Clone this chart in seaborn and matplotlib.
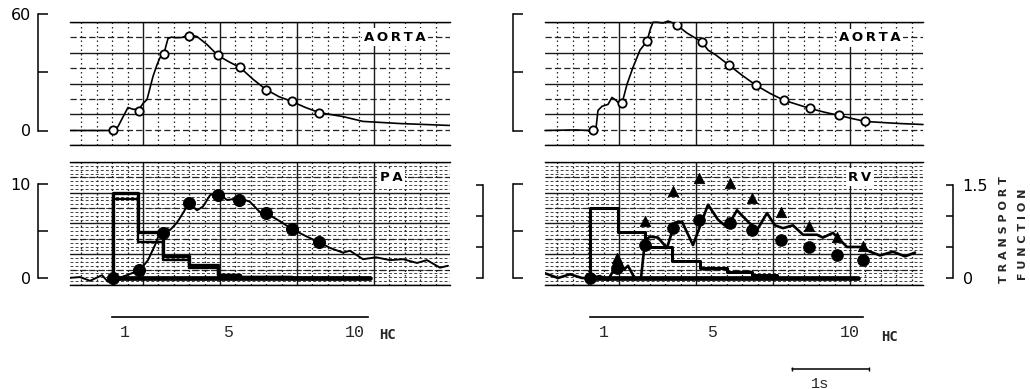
import numpy as np
import matplotlib
matplotlib.use("Agg")
import matplotlib.pyplot as plt
from matplotlib import transforms
import seaborn as sns

# ---------------- data (time in seconds, values read from the tracings) ----------------
# Left column: aorta dye-dilution curve (0-60 scale)
AORTA_L_T = [-0.948, -0.494, -0.390, -0.325, -0.260, -0.195, -0.130, -0.052, 0.000, 0.052,
             0.091, 0.130, 0.182, 0.221, 0.273, 0.300, 0.325, 0.370, 0.416, 0.506, 0.597,
             0.701, 0.831, 0.974, 1.117, 1.260, 1.429, 1.597, 1.766, 1.935, 2.104, 2.286,
             2.597, 2.857, 3.338, 3.987]
AORTA_L_V = [0, 0, 0, 2, 7, 11.9, 11.0, 10.9, 14, 16,
             22, 28, 34, 37.7, 39.8, 44.0, 47.6, 48.3, 48.0, 48.1, 49.6,
             48.6, 44.5, 38.8, 35.5, 32.6, 26.5, 21.2, 17.5, 15.0, 12.0, 9.3,
             7.2, 4.7, 3.6, 2.6]
AORTA_L_MARK_T = [-0.390, -0.052, 0.273, 0.597, 0.974, 1.260, 1.597, 1.935, 2.286]
AORTA_L_MARK_V = [0, 10.3, 39.8, 49.0, 38.8, 32.6, 21.2, 15.0, 9.3]

# Left column: pulmonary artery (PA) curve (0-10 scale)
PA_T = [-0.974, -0.818, -0.688, -0.532, -0.455, -0.390, -0.208, -0.039, 0.065, 0.156,
        0.221, 0.286, 0.351, 0.442, 0.519, 0.597, 0.701, 0.779, 0.870, 0.961,
        1.091, 1.260, 1.390, 1.519, 1.597, 1.766, 1.935, 2.104, 2.286, 2.429,
        2.597, 2.688, 2.857, 3.026, 3.208, 3.377, 3.558, 3.688, 3.857, 3.961]
PA_V = [0.0, 0.1, -0.3, 0.3, -0.4, -0.2, 0.3, 0.85, 1.9, 3.5,
        4.9, 5.3, 5.1, 5.9, 6.9, 8.0, 7.2, 7.6, 8.8, 9.1,
        8.3, 8.5, 8.1, 7.0, 6.9, 6.1, 5.2, 4.5, 3.8, 3.2,
        2.7, 2.9, 2.0, 2.2, 1.9, 2.0, 1.6, 1.9, 1.1, 1.3]
PA_MARK_T = [-0.390, -0.052, 0.260, 0.597, 0.974, 1.247, 1.597, 1.935, 2.286]
PA_MARK_V = [0.0, 0.85, 4.8, 8.0, 8.8, 8.3, 6.9, 5.2, 3.8]

# Left column: transport function (0-1.5 scale), two step estimates
TF_L_T = [-0.390, -0.390, -0.065, 0.260, 0.597, 0.974, 1.260, 1.935, 2.948]
TF_L_OUTER = [0, 1.37, 0.74, 0.35, 0.21, 0.05, 0.02, 0.0, 0.0]
TF_L_INNER = [0, 1.27, 0.58, 0.29, 0.16, 0.05, 0.02, 0.0, 0.0]

# Right column: aorta curve
AORTA_R_T = [-0.961, -0.571, -0.377, -0.299, -0.273, -0.221, -0.143, -0.091, -0.039, 0.013,
             0.039, 0.104, 0.182, 0.273, 0.364, 0.403, 0.442, 0.494, 0.571, 0.636,
             0.701, 0.753, 0.883, 1.013, 1.078, 1.156, 1.260, 1.429, 1.597, 1.779,
             1.961, 2.143, 2.312, 2.481, 2.675, 2.857, 3.026, 3.195, 3.390, 3.649, 3.948]
AORTA_R_V = [0, 0.3, 0, 1.0, 10.4, 12.5, 13.5, 17.1, 15.6, 13.5,
             14.0, 23.9, 32.7, 41.6, 46.2, 51.9, 56.0, 56.0, 55.6, 56.6,
             55.6, 54.5, 50.4, 47.3, 45.7, 41.6, 39.0, 33.8, 28.6, 23.4,
             19.2, 15.6, 13.5, 11.4, 9.4, 7.8, 6.2, 4.7, 4.2, 3.6, 3.1]
AORTA_R_MARK_T = [-0.338, 0.039, 0.364, 0.753, 1.078, 1.429, 1.779, 2.143, 2.481, 2.857, 3.195]
AORTA_R_MARK_V = [0, 14.0, 46.2, 54.5, 45.7, 33.8, 23.4, 15.6, 11.4, 7.8, 4.7]

# Right column: right ventricle (RV) curve (0-10 scale)
RV_T = [-0.961, -0.792, -0.636, -0.481, -0.377, -0.247, -0.143, -0.065, 0.000, 0.065,
        0.117, 0.208, 0.286, 0.338, 0.403, 0.506, 0.623, 0.727, 0.818, 0.961,
        1.156, 1.286, 1.403, 1.532, 1.675, 1.792, 1.922, 2.026, 2.130, 2.260,
        2.390, 2.571, 2.649, 2.779, 2.961, 3.130, 3.260, 3.390, 3.558, 3.714, 3.844]
RV_V = [0.5, 0.0, 0.4, 0.0, 0.0, 0.2, -0.2, 0.9, 2.1, 0.9,
        1.3, -0.1, 0.0, 4.0, 4.4, 4.3, 3.2, 5.9, 6.0, 3.5,
        7.8, 6.2, 5.4, 7.2, 6.0, 5.1, 6.9, 5.6, 5.3, 5.6,
        4.6, 4.6, 4.3, 4.8, 3.3, 3.3, 2.8, 2.4, 2.8, 2.3, 2.7]
RV_TRI_T = [-0.026, 0.338, 0.701, 1.039, 1.442, 1.727, 2.104, 2.468, 2.831, 3.169]
RV_TRI_V = [2.1, 6.1, 9.3, 10.6, 10.1, 8.5, 7.0, 5.5, 4.4, 3.4]
RV_DOT_T = [-0.377, -0.026, 0.338, 0.701, 1.039, 1.442, 1.727, 2.104, 2.468, 2.831, 3.169]
RV_DOT_V = [0.0, 1.1, 3.5, 5.3, 6.2, 5.9, 5.1, 4.0, 3.3, 2.4, 1.9]

# Right column: transport function steps
TF_R_T = [-0.377, -0.377, -0.013, 0.338, 0.688, 1.052, 1.403, 1.727, 2.052, 3.104]
TF_R_V = [0, 1.13, 0.74, 0.50, 0.27, 0.16, 0.10, 0.05, 0.0, 0.0]

# Heart-cycle (HC) boundaries, seconds
HC_L = [-0.403, -0.065, 0.273, 0.584, 0.948, 1.260, 1.597, 1.922, 2.260, 2.584, 2.922]
HC_R = [-0.377, -0.026, 0.312, 0.675, 1.026, 1.390, 1.753, 2.104, 2.468, 2.831, 3.169]
HC_LABELS = [1, 5, 10]

SCALE_BAR_START = 2.247   # seconds, right column
SCALE_BAR_LEN = 1.0       # 1 s

# ---------------- figure / layout ----------------
W, H = 1030, 389
sns.set_style("white")
plt.rcParams["font.family"] = ["DejaVu Sans"]
fig = plt.figure(figsize=(W / 100, H / 100), dpi=100)


def px_axes(x0, y0, x1, y1):
    return fig.add_axes([x0 / W, 1 - y1 / H, (x1 - x0) / W, (y1 - y0) / H])


TOP_YLIM = (-7.50, 56.12)
BOT_YLIM = (-0.745, 12.34)
TF_YLIM = (-0.113, 1.871)
XLIM_L = (-0.948, 3.987)
XLIM_R = (-0.961, 3.948)


def chart_paper(ax, xlim, ylim, dense):
    ax.set_xlim(*xlim)
    ax.set_ylim(*ylim)
    ax.set_xticks([0, 1, 2, 3])
    ax.set_xticks(np.round(np.arange(-0.8, 3.95, 0.2), 2), minor=True)
    ax.set_yticks(np.linspace(*ylim, 5))
    ax.set_yticks(np.linspace(*ylim, 9), minor=True)
    ax.tick_params(which="both", length=0, labelbottom=False, labelleft=False)
    ax.set_axisbelow(True)
    ax.grid(True, which="major", color="#1a1a1a", lw=1.0)
    ax.grid(True, which="minor", axis="x", color="#222222", lw=0.9, ls=(0, (1.2, 2.4)))
    ax.grid(True, which="minor", axis="y", color="#222222", lw=0.9, ls=(0, (5, 2.5)))
    if dense:
        for yy in np.linspace(*ylim, 33):
            ax.axhline(yy, color="#444444", lw=0.7, ls=(0, (3, 2.2)), zorder=0.4)
    for s in ("left", "right"):
        ax.spines[s].set_visible(False)
    for s in ("top", "bottom"):
        ax.spines[s].set_visible(True)
        ax.spines[s].set_color("black")
        ax.spines[s].set_linewidth(1.0)


def panel_label(ax, x, y, text):
    ax.text(x, y, text, transform=ax.transAxes, ha="center", va="center",
            fontsize=9.5, fontweight="bold", color="black", zorder=5,
            bbox=dict(facecolor="white", edgecolor="none", pad=1.5))


def bracket(x_px, y_bot_px, y_top_px, ylim, ticks, labels, side, tick_px, pad_pt):
    ax = fig.add_axes([x_px / W, 1 - y_bot_px / H, 1 / W, (y_bot_px - y_top_px) / H])
    ax.set_ylim(*ylim)
    ax.patch.set_visible(False)
    for s in ax.spines.values():
        s.set_visible(False)
    ax.set_xticks([])
    sp = ax.spines[side]
    sp.set_visible(True)
    sp.set_linewidth(1.1)
    sp.set_color("black")
    if side == "left":
        ax.yaxis.tick_left()
    else:
        ax.yaxis.tick_right()
    ax.set_yticks(ticks)
    ax.set_yticklabels(labels)
    ax.tick_params(axis="y", direction="in", length=tick_px * 0.72, width=1.1,
                   pad=pad_pt, labelsize=11.5, colors="black")
    return ax


def hc_axis(x0, x1, xlim, ticks):
    ax = px_axes(x0, 306, x1, 317)
    ax.set_xlim(*xlim)
    ax.set_ylim(0, 1)
    ax.patch.set_visible(False)
    for s in ("left", "right", "top"):
        ax.spines[s].set_visible(False)
    ax.spines["bottom"].set_bounds(ticks[0], ticks[-1])
    ax.spines["bottom"].set_linewidth(1.2)
    ax.spines["bottom"].set_color("black")
    ax.set_yticks([])
    ax.set_xticks(ticks)
    ax.set_xticklabels([])
    mids = [(ticks[i - 1] + ticks[i]) / 2 for i in HC_LABELS]
    ax.set_xticks(mids, minor=True)
    ax.set_xticklabels([str(i) for i in HC_LABELS], minor=True,
                       fontfamily="Liberation Mono", fontsize=12)
    ax.tick_params(axis="x", which="major", direction="in", length=7.9, width=1.0, colors="black")
    ax.tick_params(axis="x", which="minor", length=0, pad=6)
    return ax


line_kw = dict(estimator=None, sort=False, legend=False)

# ---- top left: aorta ----
ax_tl = px_axes(70, 22, 450, 145)
chart_paper(ax_tl, XLIM_L, TOP_YLIM, dense=False)
sns.lineplot(x=AORTA_L_T, y=AORTA_L_V, ax=ax_tl, color="black", lw=1.2, **line_kw)
sns.scatterplot(x=AORTA_L_MARK_T, y=AORTA_L_MARK_V, ax=ax_tl, marker="o", s=36,
                color="white", edgecolor="black", linewidth=1.3, zorder=4, legend=False)
panel_label(ax_tl, 0.855, 0.878, "A\u2009O\u2009R\u2009T\u2009A")

# ---- top right: aorta ----
ax_tr = px_axes(545, 22, 923, 145)
chart_paper(ax_tr, XLIM_R, TOP_YLIM, dense=False)
sns.lineplot(x=AORTA_R_T, y=AORTA_R_V, ax=ax_tr, color="black", lw=1.2, clip_on=False, **line_kw)
sns.scatterplot(x=AORTA_R_MARK_T, y=AORTA_R_MARK_V, ax=ax_tr, marker="o", s=36,
                color="white", edgecolor="black", linewidth=1.3, zorder=4, legend=False)
panel_label(ax_tr, 0.860, 0.870, "A\u2009O\u2009R\u2009T\u2009A")

# ---- bottom left: PA ----
ax_bl = px_axes(70, 162, 450, 285)
chart_paper(ax_bl, XLIM_L, BOT_YLIM, dense=True)
panel_label(ax_bl, 0.845, 0.870, "P\u2009A")
sns.lineplot(x=PA_T, y=PA_V, ax=ax_bl, color="black", lw=1.4, **line_kw)
sns.scatterplot(x=PA_MARK_T, y=PA_MARK_V, ax=ax_bl, marker="o", s=75,
                color="black", edgecolor="black", zorder=4, legend=False)
tw_l = ax_bl.twinx()
tw_l.set_ylim(*TF_YLIM)
tw_l.set_yticks([])
for s in tw_l.spines.values():
    s.set_visible(False)
sns.lineplot(x=TF_L_T, y=TF_L_OUTER, ax=tw_l, color="black", lw=2.4,
             drawstyle="steps-post", **line_kw)
sns.lineplot(x=TF_L_T, y=TF_L_INNER, ax=tw_l, color="black", lw=1.7,
             drawstyle="steps-post", **line_kw)
sns.lineplot(x=[TF_L_T[0], TF_L_T[-1]], y=[TF_L_OUTER[0], TF_L_OUTER[-1]], ax=tw_l,
             color="black", lw=3.4, **line_kw)
tw_l.set_ylabel("")

# ---- bottom right: RV ----
ax_br = px_axes(545, 162, 923, 285)
chart_paper(ax_br, XLIM_R, BOT_YLIM, dense=True)
panel_label(ax_br, 0.833, 0.878, "R\u2009V")
sns.lineplot(x=RV_T, y=RV_V, ax=ax_br, color="black", lw=1.9, **line_kw)
sns.scatterplot(x=RV_TRI_T, y=RV_TRI_V, ax=ax_br, marker="^", s=55,
                color="black", edgecolor="black", zorder=4, legend=False)
sns.scatterplot(x=RV_DOT_T, y=RV_DOT_V, ax=ax_br, marker="o", s=70,
                color="black", edgecolor="black", zorder=4, legend=False)
tw_r = ax_br.twinx()
tw_r.set_ylim(*TF_YLIM)
tw_r.set_yticks([])
for s in tw_r.spines.values():
    s.set_visible(False)
sns.lineplot(x=TF_R_T, y=TF_R_V, ax=tw_r, color="black", lw=2.2,
             drawstyle="steps-post", **line_kw)
sns.lineplot(x=[TF_R_T[0], TF_R_T[-1]], y=[TF_R_V[0], TF_R_V[-1]], ax=tw_r,
             color="black", lw=3.4, **line_kw)
tw_r.set_ylabel("")

# ---- scale brackets ----
bracket(38, 130.5, 14.5, (0, 60), [0, 30, 60], ["0", "", "60"], "left", 10, 5)
bracket(38, 278, 184, (0, 10), [0, 5, 10], ["0", "", "10"], "left", 10, 5)
bracket(482, 278, 185, (0, 1.5), [0, 0.5, 1.0, 1.5], ["", "", "", ""], "right", 7, 5)
bracket(513, 130.5, 14.5, (0, 60), [0, 30, 60], ["", "", ""], "left", 10, 5)
bracket(513, 278, 184, (0, 10), [0, 5, 10], ["", "", ""], "left", 10, 5)
bracket(952, 278, 185, (0, 1.5), [0, 0.5, 1.0, 1.5], ["0", "", "", "1.5"], "right", 7, 7)

fig.text(1004 / W, 1 - 230 / H, "T R A N S P O R T", rotation=90, ha="center", va="center",
         fontfamily="DejaVu Sans", fontweight="bold", fontsize=8)
fig.text(1023 / W, 1 - 234 / H, "F U N C T I O N", rotation=90, ha="center", va="center",
         fontfamily="DejaVu Sans", fontweight="bold", fontsize=8)

# ---- heart-cycle scales ----
hc_axis(70, 450, XLIM_L, HC_L)
ax_hcr = hc_axis(545, 923, XLIM_R, HC_R)
fig.text(387 / W, 1 - 335 / H, "HC", ha="center", va="center",
         fontfamily="DejaVu Sans Mono", fontweight="bold", fontsize=10)
fig.text(890 / W, 1 - 337 / H, "HC", ha="center", va="center",
         fontfamily="DejaVu Sans Mono", fontweight="bold", fontsize=10)

# ---- 1 s scale bar ----
blend = transforms.blended_transform_factory(ax_hcr.transData, fig.transFigure)
ax_hcr.plot([SCALE_BAR_START, SCALE_BAR_START + SCALE_BAR_LEN], [1 - 369 / H, 1 - 369 / H],
            transform=blend, clip_on=False, color="black", lw=1.1, marker="|", ms=3)
ax_hcr.text(SCALE_BAR_START + 0.37, 1 - 384 / H, "1s", transform=blend, ha="center", va="center",
            fontfamily="Liberation Mono", fontsize=11)

fig.savefig("out.png", dpi=100)
